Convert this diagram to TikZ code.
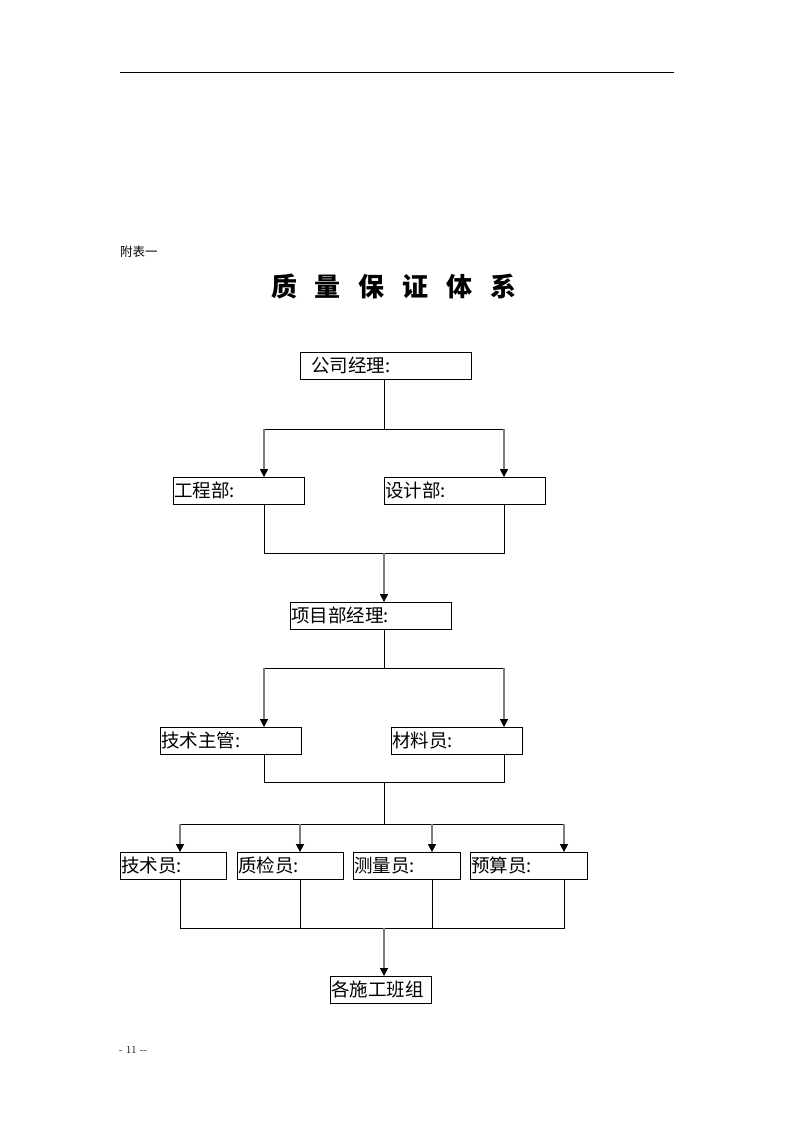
\documentclass[tikz,border=0pt]{standalone}
\usepackage{fontspec}
\newfontfamily\cjk{Noto Sans CJK SC}
\usetikzlibrary{arrows.meta}
\definecolor{arrgray}{RGB}{125,125,125}
\begin{document}
\begin{tikzpicture}[x=1pt,y=-1pt,
  box/.style={draw=black, line width=0.9pt, minimum height=27pt, inner xsep=1pt, inner ysep=0pt,
    align=left, font=\cjk\fontsize{18.5}{20}\selectfont},
  ln/.style={draw=black, line width=0.9pt},
  arr/.style={draw=arrgray, line width=1.6pt, -{Triangle[width=8pt,length=8pt,color=black]}, shorten >=-0.5pt}
]
\useasboundingbox (0,0) rectangle (793,1122);
\draw[line width=0.8pt] (120,72) -- (674,72);
\node[anchor=west, inner sep=0pt, font=\cjk\fontsize{12.5}{13}\selectfont] (fb) at (120,252) {附表一};
\node[anchor=center, inner sep=0pt, font=\cjk\bfseries\fontsize{26}{28}\selectfont] (title) at (394,286)
  {质\hspace{18pt}量\hspace{18pt}保\hspace{18pt}证\hspace{18pt}体\hspace{18pt}系};

\node[box, minimum width=171pt, text width=169pt] (b1) at (385.5,365.5) {\hspace*{10pt}公司经理:};
\node[box, minimum width=131pt, text width=129pt] (b2) at (238.5,490.5) {工程部:};
\node[box, minimum width=161pt, text width=159pt] (b3) at (464.5,490.5) {设计部:};
\node[box, minimum width=161pt, text width=159pt] (b4) at (370.5,615.5) {项目部经理:};
\node[box, minimum width=141pt, text width=139pt] (b5) at (230.5,740.5) {技术主管:};
\node[box, minimum width=131pt, text width=129pt] (b6) at (456.5,740.5) {材料员:};
\node[box, minimum width=106pt, text width=104pt] (b7) at (173,865.5) {技术员:};
\node[box, minimum width=106pt, text width=104pt] (b8) at (290,865.5) {质检员:};
\node[box, minimum width=107pt, text width=105pt] (b9) at (406.5,865.5) {测量员:};
\node[box, minimum width=117pt, text width=115pt] (b10) at (528.5,865.5) {预算员:};
\node[box, minimum width=101pt, text width=99pt] (b11) at (380.5,989.5) {各施工班组};

% level 1
\coordinate (a1) at (384,429);
\coordinate (a1L) at (264,429);
\coordinate (a1R) at (504,429);
\draw[ln] (b1.south -| a1) -- (a1);
\draw[ln] (a1L) -- (a1R);
\draw[arr] (a1L) -- (a1L |- b2.north);
\draw[arr] (a1R) -- (a1R |- b3.north);
% level 2
\coordinate (c2L) at (264,553);
\coordinate (c2R) at (504,553);
\coordinate (c2) at (384,553);
\draw[ln] (c2L |- b2.south) -- (c2L) -- (c2R) -- (c2R |- b3.south);
\draw[arr] (c2) -- (c2 |- b4.north);
% level 3
\coordinate (a3) at (384,668);
\coordinate (a3L) at (264,668);
\coordinate (a3R) at (504,668);
\draw[ln] (b4.south -| a3) -- (a3);
\draw[ln] (a3L) -- (a3R);
\draw[arr] (a3L) -- (a3L |- b5.north);
\draw[arr] (a3R) -- (a3R |- b6.north);
% level 4
\coordinate (c4L) at (264,782);
\coordinate (c4R) at (504,782);
\coordinate (c4) at (384,782);
\coordinate (a4) at (384,824);
\coordinate (a4a) at (180,824);
\coordinate (a4b) at (300,824);
\coordinate (a4c) at (432,824);
\coordinate (a4d) at (564,824);
\draw[ln] (c4L |- b5.south) -- (c4L) -- (c4R) -- (c4R |- b6.south);
\draw[ln] (c4) -- (a4);
\draw[ln] (a4a) -- (a4d);
\draw[arr] (a4a) -- (a4a |- b7.north);
\draw[arr] (a4b) -- (a4b |- b8.north);
\draw[arr] (a4c) -- (a4c |- b9.north);
\draw[arr] (a4d) -- (a4d |- b10.north);
% level 5
\coordinate (c5a) at (180,928);
\coordinate (c5b) at (300,928);
\coordinate (c5c) at (432,928);
\coordinate (c5d) at (564,928);
\coordinate (c5) at (384,928);
\draw[ln] (c5a |- b7.south) -- (c5a) -- (c5d) -- (c5d |- b10.south);
\draw[ln] (c5b |- b8.south) -- (c5b);
\draw[ln] (c5c |- b9.south) -- (c5c);
\draw[arr] (c5) -- (c5 |- b11.north);

\node[anchor=west, inner sep=0pt, font=\fontsize{10.5}{11}\selectfont] (pg) at (119,1050) {- 11 -{}-};
\end{tikzpicture}
\end{document}
